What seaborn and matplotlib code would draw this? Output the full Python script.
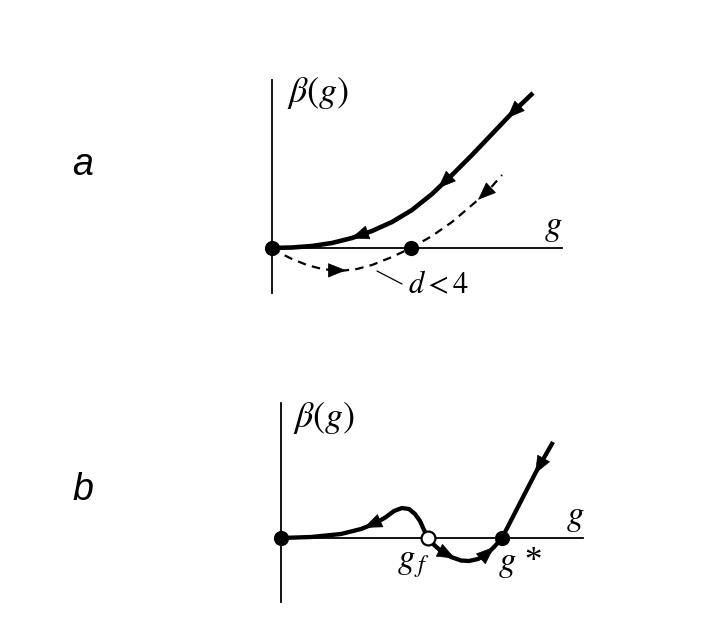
import numpy as np
import pandas as pd
import matplotlib
matplotlib.use("Agg")
import matplotlib.pyplot as plt
import seaborn as sns

# ---------------- data ----------------
# panel a : solid beta(g) curve
a_solid_g = [0.00, 0.20, 0.40, 0.60, 0.80, 1.00, 1.20, 1.40, 1.60, 1.80, 2.00, 2.20, 2.40, 2.61]
a_solid_b = [0.00, 0.005, 0.02, 0.05, 0.10, 0.17, 0.26, 0.38, 0.54, 0.73, 0.93, 1.14, 1.35, 1.55]
# panel a : dashed curve (d < 4)
a_dash_g = [0.00, 0.10, 0.20, 0.35, 0.50, 0.68, 0.85, 1.00, 1.20, 1.39, 1.60, 1.80, 2.00, 2.15, 2.30]
a_dash_b = [0.00, -0.06, -0.11, -0.17, -0.21, -0.23, -0.21, -0.17, -0.09, 0.00, 0.12, 0.26, 0.43, 0.56, 0.73]
a_fixed_g = [0.00, 1.39]
# arrows: (tip g, tail g)
a_solid_arrows = [(0.79, 0.95), (1.66, 1.80), (2.35, 2.48)]
a_dash_arrows = [(0.74, 0.62), (2.06, 2.18)]

# panel b : beta(g) curve
b_g = [0.00, 0.30, 0.60, 0.80, 0.95, 1.05, 1.13, 1.21, 1.28, 1.34, 1.39, 1.43, 1.47,
       1.52, 1.60, 1.70, 1.80, 1.88, 1.97, 2.06, 2.14, 2.21, 2.39, 2.56, 2.72]
b_b = [0.00, 0.01, 0.04, 0.09, 0.15, 0.21, 0.27, 0.30, 0.29, 0.24, 0.17, 0.08, 0.00,
       -0.06, -0.13, -0.19, -0.225, -0.23, -0.21, -0.16, -0.08, 0.00, 0.35, 0.68, 0.96]
b_fixed_filled = [0.00, 2.21]
b_fixed_open = [1.47]
b_arrows = [(0.83, 0.98), (1.74, 1.62), (2.13, 2.04), (2.54, 2.64)]

# ---------------- style ----------------
sns.set_style("white")
plt.rcParams["mathtext.fontset"] = "stix"
plt.rcParams["font.family"] = ["Liberation Sans", "DejaVu Sans"]
plt.rcParams["text.color"] = "black"

W, H = 706, 626
fig = plt.figure(figsize=(W / 100, H / 100), dpi=100)


def make_axes(rect, xlim, ylim):
    ax = fig.add_axes(rect)
    ax.set_xlim(*xlim)
    ax.set_ylim(*ylim)
    ax.patch.set_alpha(0)
    for s in ("top", "right"):
        ax.spines[s].set_visible(False)
    ax.spines["bottom"].set_position(("data", 0))
    for s in ("left", "bottom"):
        ax.spines[s].set_linewidth(1.3)
        ax.spines[s].set_color("black")
    ax.set_xticks([])
    ax.set_yticks([])
    return ax


def draw_arrows(ax, gx, by, arrows):
    for tip, tail in arrows:
        yt = np.interp(tip, gx, by)
        ys = np.interp(tail, gx, by)
        ax.annotate("", xy=(tip, yt), xytext=(tail, ys),
                    arrowprops=dict(arrowstyle="-|>,head_length=0.6,head_width=0.24",
                                    mutation_scale=20, color="black", lw=0.5,
                                    shrinkA=0, shrinkB=0),
                    annotation_clip=False, zorder=5)


# ---------------- panel a ----------------
axa = make_axes([272 / W, 1 - 293 / H, 290 / W, 213 / H], (0, 2.90), (-0.45, 1.68))
df_as = pd.DataFrame({"g": a_solid_g, "beta": a_solid_b})
df_ad = pd.DataFrame({"g": a_dash_g, "beta": a_dash_b})
sns.lineplot(data=df_as, x="g", y="beta", ax=axa, color="black", lw=3.3,
             sort=False, estimator=None, solid_capstyle="butt", clip_on=False)
sns.lineplot(data=df_ad, x="g", y="beta", ax=axa, color="black", lw=1.6,
             sort=False, estimator=None, clip_on=False)
axa.lines[-1].set_dashes((3.8, 2.8))
draw_arrows(axa, a_solid_g, a_solid_b, a_solid_arrows)
draw_arrows(axa, a_dash_g, a_dash_b, a_dash_arrows)
sns.scatterplot(x=a_fixed_g, y=[0] * len(a_fixed_g), ax=axa, color="black", s=120,
                edgecolor="black", linewidth=0, clip_on=False, zorder=6)
axa.plot([1.05, 1.30], [-0.23, -0.36], color="black", lw=0.9, clip_on=False)
axa.text(0.46, 1.55, r"$\beta(g)$", fontsize=26, ha="center", va="center")
axa.text(2.81, 0.20, r"$g$", fontsize=25, ha="center", va="center")
axa.text(1.67, -0.37, r"$d < 4$", fontsize=22, ha="center", va="center")
axa.set_xlabel("")
axa.set_ylabel("")

# ---------------- panel b ----------------
axb = make_axes([281 / W, 1 - 602 / H, 302 / W, 199 / H], (0, 3.02), (-0.64, 1.35))
df_b = pd.DataFrame({"g": b_g, "beta": b_b})
sns.lineplot(data=df_b, x="g", y="beta", ax=axb, color="black", lw=3.1,
             sort=False, estimator=None, solid_capstyle="butt", clip_on=False)
draw_arrows(axb, b_g, b_b, b_arrows)
sns.scatterplot(x=b_fixed_filled, y=[0] * len(b_fixed_filled), ax=axb, color="black",
                s=120, edgecolor="black", linewidth=0, clip_on=False, zorder=6)
sns.scatterplot(x=b_fixed_open, y=[0] * len(b_fixed_open), ax=axb, color="white",
                s=100, edgecolor="black", linewidth=1.6, clip_on=False, zorder=6)
axb.text(0.43, 1.20, r"$\beta(g)$", fontsize=26, ha="center", va="center")
axb.text(2.94, 0.21, r"$g$", fontsize=25, ha="center", va="center")
axb.text(1.32, -0.26, r"$g_{\,f}$", fontsize=25, ha="center", va="center")
axb.text(2.39, -0.25, r"$g$ *", fontsize=25, ha="center", va="center",
         family=["Liberation Serif", "DejaVu Serif"])
axb.set_xlabel("")
axb.set_ylabel("")

# ---------------- panel letters ----------------
fig.text(83 / W, 1 - 175 / H, "a", fontsize=27, style="italic", ha="center", va="baseline")
fig.text(83 / W, 1 - 500 / H, "b", fontsize=27, style="italic", ha="center", va="baseline")

fig.savefig("out.png", dpi=100)
